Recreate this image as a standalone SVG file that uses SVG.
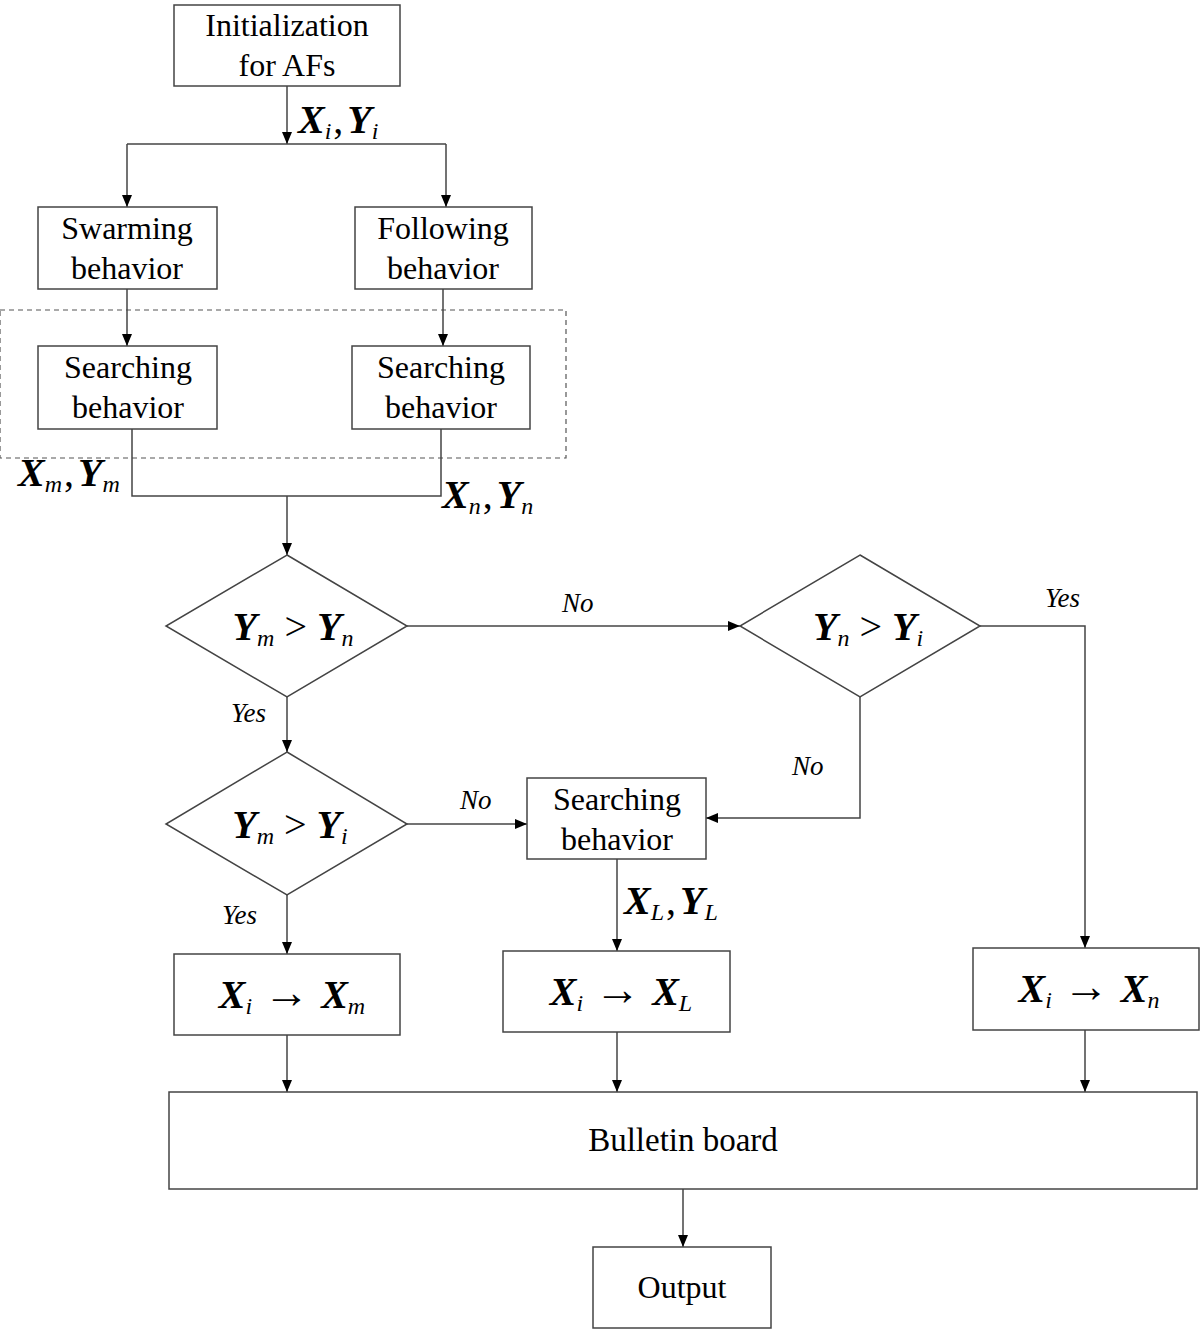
<svg xmlns="http://www.w3.org/2000/svg" width="1200" height="1330" viewBox="0 0 1200 1330">
<defs>
<marker id="ah" viewBox="0 0 12 10" refX="12" refY="5" markerWidth="12" markerHeight="10" markerUnits="userSpaceOnUse" orient="auto">
<path d="M0,0 L12,5 L0,10 Z" fill="#000"/>
</marker>
<style>
.box{fill:#fff;stroke:#444;stroke-width:1.5}
.ln{fill:none;stroke:#444;stroke-width:1.5}
.ar{fill:none;stroke:#444;stroke-width:1.5;marker-end:url(#ah)}
text{font-family:'Liberation Serif','Times New Roman',serif}
.t{font-size:32px;fill:#000;text-anchor:middle}
.lab{font-size:27px;font-style:italic;fill:#000}
.m{font-size:40px;fill:#000}
.v{font-weight:bold;font-style:italic}
.s{font-size:24px;font-style:italic;font-weight:normal}
.a{font-size:46px}
</style>
</defs>
<rect x="0" y="310" width="566" height="148" fill="none" stroke="#555" stroke-width="1.2" stroke-dasharray="5,4"/>
<g id="connectors">
<path class="ar" d="M287,86 V144"/>
<path class="ln" d="M127,144 H446"/>
<path class="ar" d="M127,144 V207"/>
<path class="ar" d="M446,144 V207"/>
<path class="ar" d="M127,289 V346"/>
<path class="ar" d="M443,289 V346"/>
<path class="ln" d="M132,429 V496 H441 V429"/>
<path class="ar" d="M287,496 V555"/>
<path class="ar" d="M407,626 H740"/>
<path class="ar" d="M980,626 H1085 V948"/>
<path class="ar" d="M860,697 V818 H706"/>
<path class="ar" d="M287,697 V752"/>
<path class="ar" d="M407,824 H527"/>
<path class="ar" d="M617,859 V951"/>
<path class="ar" d="M287,895 V954"/>
<path class="ar" d="M287,1035 V1092"/>
<path class="ar" d="M617,1032 V1092"/>
<path class="ar" d="M1085,1030 V1092"/>
<path class="ar" d="M683,1189 V1247"/>
</g>
<g id="labels">
<text class="m" x="298" y="133"><tspan class="v">X</tspan><tspan class="s" dy="6">i</tspan><tspan dy="-6" dx="2">,</tspan><tspan class="v" dx="4">Y</tspan><tspan class="s" dy="6">i</tspan></text>
<text class="m" x="18" y="486"><tspan class="v">X</tspan><tspan class="s" dy="6">m</tspan><tspan dy="-6" dx="2">,</tspan><tspan class="v" dx="4">Y</tspan><tspan class="s" dy="6">m</tspan></text>
<text class="m" x="442" y="508"><tspan class="v">X</tspan><tspan class="s" dy="6">n</tspan><tspan dy="-6" dx="2">,</tspan><tspan class="v" dx="4">Y</tspan><tspan class="s" dy="6">n</tspan></text>
<text class="m" x="624" y="914"><tspan class="v">X</tspan><tspan class="s" dy="6">L</tspan><tspan dy="-6" dx="2">,</tspan><tspan class="v" dx="4">Y</tspan><tspan class="s" dy="6">L</tspan></text>
<text class="lab" x="562" y="612">No</text>
<text class="lab" x="1045" y="607">Yes</text>
<text class="lab" x="792" y="775">No</text>
<text class="lab" x="231" y="722">Yes</text>
<text class="lab" x="460" y="809">No</text>
<text class="lab" x="222" y="924">Yes</text>
</g>
<g id="init"><rect class="box" x="174" y="5" width="226" height="81"/><text class="t" x="287" y="36">Initialization</text><text class="t" x="287" y="76">for AFs</text></g>
<g id="swarming"><rect class="box" x="38" y="207" width="179" height="82"/><text class="t" x="127" y="239">Swarming</text><text class="t" x="127" y="279">behavior</text></g>
<g id="following"><rect class="box" x="355" y="207" width="177" height="82"/><text class="t" x="443" y="239">Following</text><text class="t" x="443" y="279">behavior</text></g>
<g id="search1"><rect class="box" x="38" y="346" width="179" height="83"/><text class="t" x="128" y="378">Searching</text><text class="t" x="128" y="418">behavior</text></g>
<g id="search2"><rect class="box" x="352" y="346" width="178" height="83"/><text class="t" x="441" y="378">Searching</text><text class="t" x="441" y="418">behavior</text></g>
<g id="d1"><path class="box" d="M287,555 L407,626 L287,697 L166,626 Z"/><text class="m" x="293" y="640" text-anchor="middle"><tspan class="v">Y</tspan><tspan class="s" dy="6">m</tspan><tspan dy="-6"> &gt; </tspan><tspan class="v">Y</tspan><tspan class="s" dy="6">n</tspan></text></g>
<g id="d2"><path class="box" d="M860,555 L980,626 L860,697 L740,626 Z"/><text class="m" x="868" y="640" text-anchor="middle"><tspan class="v">Y</tspan><tspan class="s" dy="6">n</tspan><tspan dy="-6"> &gt; </tspan><tspan class="v">Y</tspan><tspan class="s" dy="6">i</tspan></text></g>
<g id="d3"><path class="box" d="M287,752 L407,824 L287,895 L166,824 Z"/><text class="m" x="290" y="838" text-anchor="middle"><tspan class="v">Y</tspan><tspan class="s" dy="6">m</tspan><tspan dy="-6"> &gt; </tspan><tspan class="v">Y</tspan><tspan class="s" dy="6">i</tspan></text></g>
<g id="search3"><rect class="box" x="527" y="778" width="179" height="81"/><text class="t" x="617" y="810">Searching</text><text class="t" x="617" y="850">behavior</text></g>
<g id="xm"><rect class="box" x="174" y="954" width="226" height="81"/><text class="m" x="292" y="1008" text-anchor="middle"><tspan class="v">X</tspan><tspan class="s" dy="6">i</tspan><tspan class="a" dy="-6"> → </tspan><tspan class="v">X</tspan><tspan class="s" dy="6">m</tspan></text></g>
<g id="xl"><rect class="box" x="503" y="951" width="227" height="81"/><text class="m" x="621" y="1005" text-anchor="middle"><tspan class="v">X</tspan><tspan class="s" dy="6">i</tspan><tspan class="a" dy="-6"> → </tspan><tspan class="v">X</tspan><tspan class="s" dy="6">L</tspan></text></g>
<g id="xn"><rect class="box" x="973" y="948" width="226" height="82"/><text class="m" x="1089" y="1002" text-anchor="middle"><tspan class="v">X</tspan><tspan class="s" dy="6">i</tspan><tspan class="a" dy="-6"> → </tspan><tspan class="v">X</tspan><tspan class="s" dy="6">n</tspan></text></g>
<g id="bulletin"><rect class="box" x="169" y="1092" width="1028" height="97"/><text class="t" x="683" y="1151" style="font-size:33px">Bulletin board</text></g>
<g id="output"><rect class="box" x="593" y="1247" width="178" height="81"/><text class="t" x="682" y="1298">Output</text></g>
</svg>
